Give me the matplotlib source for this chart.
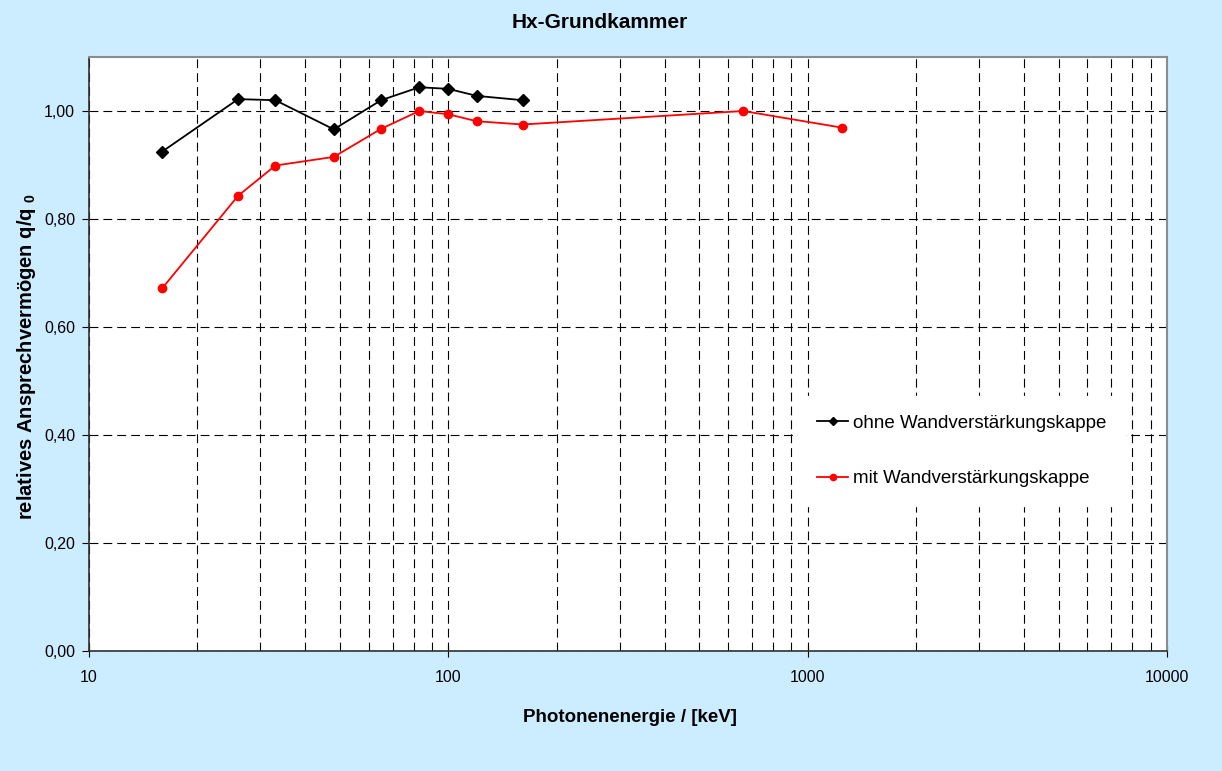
import matplotlib
matplotlib.use("Agg")
import matplotlib.pyplot as plt
from matplotlib.ticker import FixedLocator, FuncFormatter, LogLocator, NullFormatter

BG = "#CCECFF"
FONT = "Liberation Sans"

plt.rcParams["font.family"] = [FONT, "DejaVu Sans"]
plt.rcParams["mathtext.fontset"] = "custom"
plt.rcParams["mathtext.rm"] = FONT
plt.rcParams["mathtext.bf"] = FONT + ":bold"

# Photonenenergie in keV
energy_ohne = [16, 26, 33, 48, 65, 83, 100, 120, 161]
response_ohne = [0.925, 1.022, 1.020, 0.966, 1.020, 1.044, 1.041, 1.028, 1.020]

energy_mit = [16, 26, 33, 48, 65, 83, 100, 120, 161, 662, 1250]
response_mit = [0.672, 0.843, 0.899, 0.915, 0.967, 1.000, 0.994, 0.981, 0.975, 1.000, 0.969]

x_ticks = [10, 100, 1000, 10000]
y_ticks = [0.0, 0.2, 0.4, 0.6, 0.8, 1.0]

W, H = 1222, 771
fig = plt.figure(figsize=(W / 100, H / 100), dpi=100)
fig.patch.set_facecolor(BG)
ax = fig.add_axes([89 / W, 1 - 651 / H, (1167 - 89) / W, (651 - 57) / H])
ax.set_facecolor("white")

ax.set_xscale("log")
ax.set_xlim(10, 10000)
ax.set_ylim(0, 1.1)

ax.xaxis.set_major_locator(FixedLocator(x_ticks))
ax.xaxis.set_major_formatter(FuncFormatter(lambda v, p: f"{v:.0f}"))
ax.xaxis.set_minor_locator(LogLocator(base=10, subs=range(2, 10)))
ax.xaxis.set_minor_formatter(NullFormatter())
ax.yaxis.set_major_locator(FixedLocator(y_ticks))
ax.yaxis.set_major_formatter(FuncFormatter(lambda v, p: f"{v:.2f}".replace(".", ",")))

grid_kw = dict(color="black", linestyle=(0, (8, 4.5)), linewidth=0.8)
ax.grid(True, which="major", axis="both", **grid_kw)
ax.grid(True, which="minor", axis="x", **grid_kw)
ax.set_axisbelow(True)

ax.tick_params(axis="both", which="major", direction="out", length=5, width=0.8,
               labelsize=11.5, colors="black", pad=5)
ax.tick_params(axis="x", which="minor", length=0)
ax.tick_params(axis="x", which="major", direction="inout", length=8, pad=10)

for side in ("left", "bottom"):
    ax.spines[side].set_color("#303030")
    ax.spines[side].set_linewidth(1.2)
for side in ("top", "right"):
    ax.spines[side].set_color("#8C8C8C")
    ax.spines[side].set_linewidth(1.5)

ax.plot(energy_ohne, response_ohne, color="black", linewidth=1.3, marker="D",
        markersize=6, label="ohne Wandverstärkungskappe", zorder=4, clip_on=False)
ax.plot(energy_mit, response_mit, color="#FF0000", linewidth=1.3, marker="o",
        markersize=6, label="mit Wandverstärkungskappe", zorder=3, clip_on=False)

leg = ax.legend(loc="center left", bbox_to_anchor=(789 / W, 1 - 451 / H),
                bbox_transform=fig.transFigure, frameon=True, fancybox=False,
                facecolor="white", edgecolor="white", framealpha=1.0,
                fontsize=13.5, handlelength=1.65, handletextpad=0.27,
                labelspacing=2.05, borderpad=1.0, markerscale=0.75)
leg.set_zorder(5)

fig.text(600 / W, 1 - 22 / H, "Hx-Grundkammer", ha="center", va="center",
         fontsize=15, fontweight="bold")
fig.text(630 / W, 1 - 717 / H, "Photonenenergie / [keV]", ha="center", va="center",
         fontsize=13.5, fontweight="bold")
fig.text(27 / W, 1 - 356 / H, r"relatives Ansprechvermögen q/q $\mathbf{_0}$",
         ha="center", va="center", rotation=90, fontsize=14.5, fontweight="bold")

fig.savefig("out.png", dpi=100, facecolor=BG)
